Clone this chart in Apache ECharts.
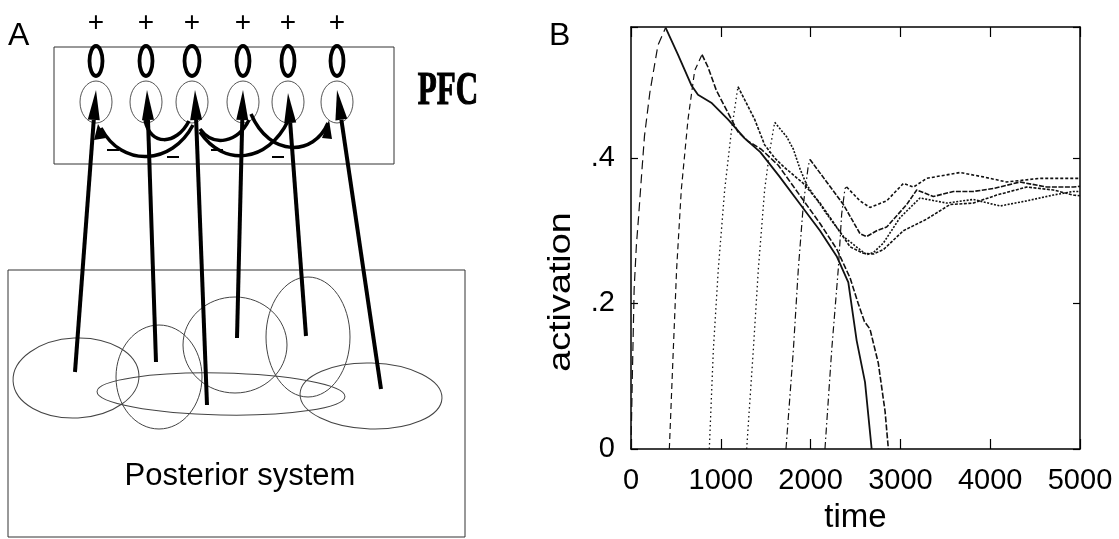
<!DOCTYPE html>
<html>
<head>
<meta charset="utf-8">
<title>PFC activation</title>
<script src="https://cdn.jsdelivr.net/npm/echarts@6/dist/echarts.min.js"></script>
<style>
html, body { margin: 0; padding: 0; background: #fff; }
#main { width: 1119px; height: 539px; }
</style>
</head>
<body>
<div id="main"></div>
<script>
// 坐标轴刻度
var xTicks = [0, 1000, 2000, 3000, 4000, 5000];
var yTicks = [0, 0.2, 0.4];
var yTickText = ['0', '.2', '.4'];

// 六个PFC单元：上升段 [time, activation]
var rise1 = [[0, 0], [15, 0.1], [35, 0.22], [60, 0.28], [85, 0.32], [120, 0.38], [150, 0.43], [210, 0.49], [300, 0.555], [385, 0.579]];
var rise2 = [[427, 0], [471, 0.136], [508, 0.247], [560, 0.356], [635, 0.453], [709, 0.52], [791, 0.542]];
var rise3 = [[872, 0], [917, 0.136], [972, 0.247], [1043, 0.356], [1117, 0.436], [1191, 0.498]];
var rise4 = [[1288, 0], [1362, 0.136], [1418, 0.247], [1488, 0.356], [1544, 0.409], [1600, 0.449]];
var rise5 = [[1726, 0], [1808, 0.136], [1863, 0.247], [1919, 0.336], [1974, 0.389], [1993, 0.398]];
var rise6 = [[2160, 0], [2235, 0.136], [2308, 0.247], [2346, 0.323], [2383, 0.358], [2402, 0.36]];

// 峰值之后的衰减段
var decay1 = [[385, 0.579], [523, 0.542], [672, 0.5], [746, 0.487], [894, 0.476], [1080, 0.453], [1266, 0.427], [1440, 0.408], [1650, 0.375], [1880, 0.337], [2105, 0.3], [2290, 0.265], [2420, 0.229], [2513, 0.149], [2606, 0.092], [2680, 0]];
var decay2 = [[791, 0.542], [857, 0.525], [950, 0.493], [1080, 0.462], [1191, 0.436], [1303, 0.423], [1450, 0.412], [1640, 0.39], [1860, 0.352], [2105, 0.31], [2290, 0.275], [2440, 0.235], [2530, 0.2], [2600, 0.175], [2661, 0.165], [2754, 0.118], [2829, 0.052], [2866, 0]];
var decay3 = [[1191, 0.498], [1266, 0.48], [1377, 0.453], [1488, 0.418], [1600, 0.4], [1700, 0.388], [1919, 0.365], [2105, 0.338], [2290, 0.305], [2439, 0.278], [2587, 0.269], [2700, 0.268], [2810, 0.274], [3033, 0.3], [3293, 0.316], [3552, 0.336], [3813, 0.338], [4072, 0.349], [4406, 0.36], [4703, 0.356], [4926, 0.349], [5000, 0.348]];
var decay4 = [[1600, 0.449], [1734, 0.429], [1808, 0.412], [1882, 0.385], [1957, 0.363], [2179, 0.323], [2365, 0.292], [2550, 0.274], [2624, 0.267], [2700, 0.27], [2810, 0.283], [2996, 0.318], [3218, 0.345], [3515, 0.338], [3813, 0.343], [4109, 0.334], [4406, 0.341], [4703, 0.349], [4926, 0.354], [5000, 0.354]];
var decay5 = [[1993, 0.398], [2179, 0.367], [2365, 0.336], [2550, 0.296], [2624, 0.292], [2736, 0.3], [2847, 0.305], [3070, 0.336], [3182, 0.356], [3367, 0.347], [3590, 0.354], [3813, 0.354], [4035, 0.358], [4332, 0.367], [4629, 0.36], [4926, 0.36], [5000, 0.361]];
var decay6 = [[2402, 0.36], [2550, 0.341], [2661, 0.332], [2847, 0.341], [3033, 0.365], [3145, 0.36], [3293, 0.372], [3664, 0.38], [3923, 0.374], [4183, 0.367], [4555, 0.372], [4926, 0.372], [5000, 0.372]];

var FONT = "'Liberation Sans', Arial, sans-serif";
var myChart = echarts.init(document.getElementById('main'));

function seg(data, dash, width) {
    return {
        type: 'line', data: data, symbol: 'none', silent: true,
        xAxisIndex: 0, yAxisIndex: 0,
        lineStyle: {color: '#111', width: width, type: dash}
    };
}

// A图：示意图（PFC + 后部系统）
var neuronX = [96, 146, 192, 243, 288, 337];
var g = [];
g.push({type: 'text', x: 8, y: 20, style: {text: 'A', fontSize: 32, fontFamily: FONT, fill: '#000'}});
g.push({type: 'text', x: 549, y: 20, style: {text: 'B', fontSize: 32, fontFamily: FONT, fill: '#000'}});
g.push({type: 'rect', shape: {x: 54, y: 47, width: 340, height: 117}, style: {fill: 'none', stroke: '#333', lineWidth: 1}});
neuronX.forEach(function (cx, i) {
    g.push({type: 'text', x: cx, y: 23, style: {text: '+', fontSize: 28, fontFamily: FONT, fill: '#000', align: 'center', verticalAlign: 'middle'}});
    g.push({type: 'ellipse', shape: {cx: cx, cy: 61, rx: i == 2 ? 7.5 : 6.5, ry: 15}, style: {fill: 'none', stroke: '#000', lineWidth: 3.8}});
    g.push({type: 'ellipse', shape: {cx: cx, cy: 102, rx: 16, ry: 21}, style: {fill: 'none', stroke: '#555', lineWidth: 1}});
});
g.push({type: 'text', x: 448, y: 92, scaleY: 1.5, style: {text: 'PFC', fontSize: 31, fontWeight: 'bold', fontFamily: "'Liberation Serif', 'Times New Roman', serif", fill: '#000', stroke: '#000', lineWidth: 0.8, align: 'center', verticalAlign: 'middle'}});

// 抑制连接（弧线）
var arcs = [
    [101, 128, 122, 168, 172, 165, 193, 125],
    [145, 120, 150, 146, 176, 146, 189, 121],
    [200, 129, 214, 148, 238, 142, 249, 120],
    [200, 132, 224, 168, 268, 162, 288, 121],
    [251, 114, 270, 158, 314, 156, 328, 123]
];
arcs.forEach(function (a) {
    g.push({type: 'bezierCurve', shape: {x1: a[0], y1: a[1], cpx1: a[2], cpy1: a[3], cpx2: a[4], cpy2: a[5], x2: a[6], y2: a[7]},
        style: {fill: 'none', stroke: '#000', lineWidth: 3.5}});
});
g.push({type: 'polygon', shape: {points: [[98, 124], [94, 140], [106, 138]]}, style: {fill: '#000'}});
g.push({type: 'polygon', shape: {points: [[329, 120], [322, 138], [332, 139]]}, style: {fill: '#000'}});
[[113, 150], [173, 157], [217, 150], [278, 157]].forEach(function (p) {
    g.push({type: 'line', shape: {x1: p[0] - 6, y1: p[1], x2: p[0] + 6, y2: p[1]}, style: {stroke: '#000', lineWidth: 2}});
});

// 后部系统
g.push({type: 'rect', shape: {x: 8, y: 270, width: 457, height: 267}, style: {fill: 'none', stroke: '#333', lineWidth: 1}});
[[76, 378, 63, 40, 0.05], [159, 377, 43, 52, 0], [221, 394, 124, 21, -0.02], [235, 345, 52, 48, 0], [308, 337, 42, 60, 0], [371, 396, 71, 33, -0.03]].forEach(function (e) {
    g.push({type: 'ellipse', x: e[0], y: e[1], rotation: e[4], shape: {cx: 0, cy: 0, rx: e[2], ry: e[3]},
        style: {fill: 'none', stroke: '#444', lineWidth: 1}});
});
g.push({type: 'text', x: 240, y: 476, style: {text: 'Posterior system', fontSize: 31, fontFamily: FONT, fill: '#000', align: 'center', verticalAlign: 'middle'}});

// 投射箭头
var arrows = [[75, 372, 96, 90], [156, 362, 147, 90], [207, 405, 195, 90], [237, 338, 243, 90], [306, 336, 288, 93], [381, 389, 337, 90]];
arrows.forEach(function (a) {
    var dx = a[2] - a[0], dy = a[3] - a[1], L = Math.sqrt(dx * dx + dy * dy);
    var ux = dx / L, uy = dy / L, hl = 30, hw = 6;
    var bx = a[2] - ux * hl, by = a[3] - uy * hl;
    g.push({type: 'line', shape: {x1: a[0], y1: a[1], x2: bx, y2: by}, style: {stroke: '#000', lineWidth: 4}});
    g.push({type: 'polygon', shape: {points: [[a[2], a[3]], [bx - uy * hw, by + ux * hw], [bx + uy * hw, by - ux * hw]]}, style: {fill: '#000'}});
});

// y轴名称（原图中略低于轴中心，且字形较宽）
g.push({type: 'text', x: 561, y: 292, rotation: Math.PI / 2, scaleX: 1.18,
    style: {text: 'activation', fontSize: 32, fontFamily: FONT, fill: '#000', align: 'center', verticalAlign: 'middle'}});

var axisCommon = {
    type: 'value',
    axisLine: {show: true, onZero: false, lineStyle: {color: '#000', width: 1.5}},
    axisTick: {show: true, inside: true, lineStyle: {color: '#000', width: 1.2}},
    splitLine: {show: false}
};

myChart.setOption({
    animation: false,
    backgroundColor: '#fff',
    grid: {left: 631, right: 39, top: 27, bottom: 77},
    xAxis: [
        echarts.util.merge({
            min: 0, max: 5000, interval: 1000, position: 'bottom',
            axisTick: {length: 10},
            axisLabel: {
                color: '#000', fontSize: 29, fontFamily: FONT, margin: 17,
                formatter: function (v) { return xTicks.indexOf(v) >= 0 ? String(v) : ''; }
            },
            name: 'time', nameLocation: 'middle', nameGap: 52,
            nameTextStyle: {color: '#000', fontSize: 33, fontFamily: FONT}
        }, axisCommon, false),
        echarts.util.merge({
            min: 0, max: 5000, interval: 1000, position: 'top',
            axisTick: {length: 10}, axisLabel: {show: false}
        }, axisCommon, false)
    ],
    yAxis: [
        echarts.util.merge({
            min: 0, max: 0.58, interval: 0.2, position: 'left',
            axisTick: {length: 7},
            axisLabel: {
                color: '#000', fontSize: 29, fontFamily: FONT, margin: 16,
                formatter: function (v) {
                    for (var i = 0; i < yTicks.length; i++) {
                        if (Math.abs(v - yTicks[i]) < 1e-6) return yTickText[i];
                    }
                    return '';
                }
            }
        }, axisCommon, false),
        echarts.util.merge({
            min: 0, max: 0.58, interval: 0.2, position: 'right',
            axisTick: {length: 7}, axisLabel: {show: false}
        }, axisCommon, false)
    ],
    series: [
        seg(rise1, [9, 5], 1.2), seg(decay1, 'solid', 1.8),
        seg(rise2, [6, 4], 1.2), seg(decay2, [6, 2], 1.6),
        seg(rise3, [1.5, 3], 1.3), seg(decay3, [3, 1.5], 1.6),
        seg(rise4, [1.5, 3], 1.3), seg(decay4, [2, 1.5], 1.6),
        seg(rise5, [7, 3, 1.5, 3], 1.2), seg(decay5, [5, 1.5], 1.6),
        seg(rise6, [7, 3, 1.5, 3], 1.2), seg(decay6, [3, 2], 1.6)
    ],
    graphic: g
});
</script>
</body>
</html>
